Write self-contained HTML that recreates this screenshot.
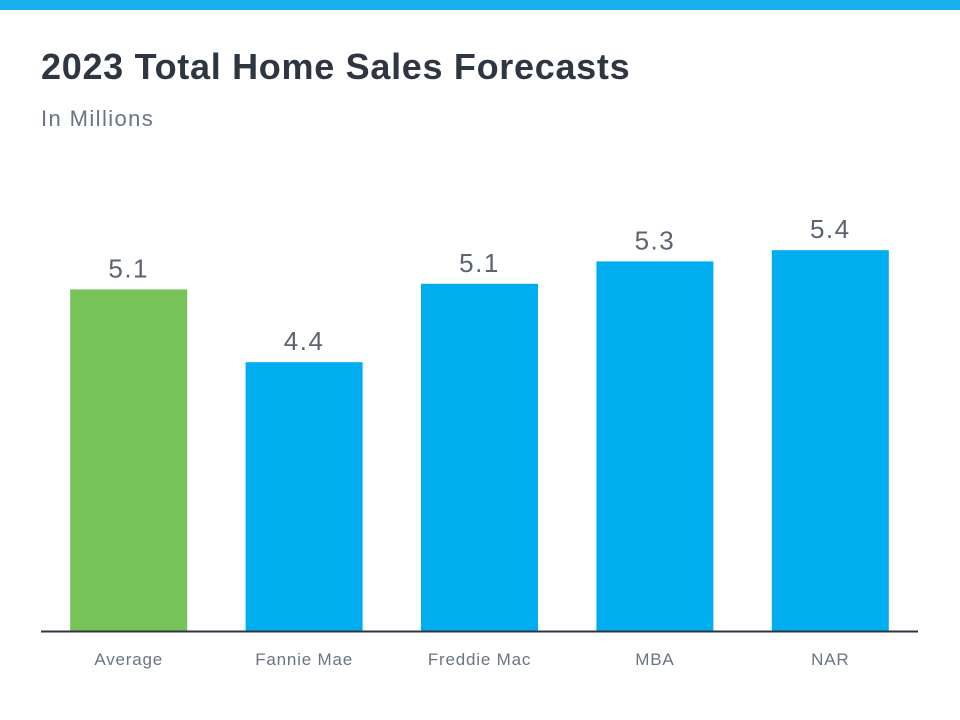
<!DOCTYPE html>
<html><head><meta charset="utf-8"><style>
body{margin:0;width:960px;height:720px;background:#fff;overflow:hidden;font-family:"Liberation Sans",sans-serif;position:relative}
#topbar{position:absolute;left:0;top:0;width:960px;height:10px;background:#1ab0ef}
#title{position:absolute;left:41px;top:46px;font-size:36px;font-weight:bold;color:#2e3641;letter-spacing:0.7px;white-space:nowrap}
#sub{position:absolute;left:41px;top:106px;font-size:22px;color:#6b7480;letter-spacing:1.4px}
svg{position:absolute;left:0;top:0}
</style></head><body>
<div id="topbar"></div>
<div id="title">2023 Total Home Sales Forecasts</div>
<div id="sub">In Millions</div>
<svg id="chart" width="960" height="720"></svg>
<script>
const categories=["Average","Fannie Mae","Freddie Mac","MBA","NAR"];
const values=[5.05,4.4,5.1,5.3,5.4];
const valueLabels=["5.1","4.4","5.1","5.3","5.4"];
const colors=["#77c35a","#00aeef","#00aeef","#00aeef","#00aeef"];
const NS="http://www.w3.org/2000/svg";
const svg=document.getElementById('chart');
const x0=41,x1=918,y0=631,vmin=2,k=112;
const band=(x1-x0)/categories.length,bw=117;
const xs=i=>x0+i*band+(band-bw)/2;
const ys=v=>y0-(v-vmin)*k;
categories.forEach((c,i)=>{
 const r=document.createElementNS(NS,'rect');
 r.setAttribute('x',xs(i));r.setAttribute('y',ys(values[i]));
 r.setAttribute('width',bw);r.setAttribute('height',y0-ys(values[i]));
 r.setAttribute('fill',colors[i]);
 
 
 svg.appendChild(r);
 const t=document.createElementNS(NS,'text');
 t.setAttribute('x',xs(i)+bw/2);t.setAttribute('y',ys(values[i])-12);
 t.setAttribute('text-anchor','middle');t.setAttribute('font-size','26');t.setAttribute('fill','#5b6470');
 t.setAttribute('letter-spacing','1.5');
 t.textContent=valueLabels[i];
 
 
 svg.appendChild(t);
 const l=document.createElementNS(NS,'text');
 l.setAttribute('x',xs(i)+bw/2);l.setAttribute('y',665);
 l.setAttribute('text-anchor','middle');l.setAttribute('font-size','17');l.setAttribute('fill','#6b7480');
 l.setAttribute('letter-spacing','0.8');
 l.textContent=c;
 
 
 svg.appendChild(l);
});
const ax=document.createElementNS(NS,'line');
ax.setAttribute('x1',x0);ax.setAttribute('x2',x1);ax.setAttribute('y1',y0+0.5);ax.setAttribute('y2',y0+0.5);
ax.setAttribute('stroke','#2e3641');ax.setAttribute('stroke-width','2');


svg.appendChild(ax);
</script>
</body></html>
